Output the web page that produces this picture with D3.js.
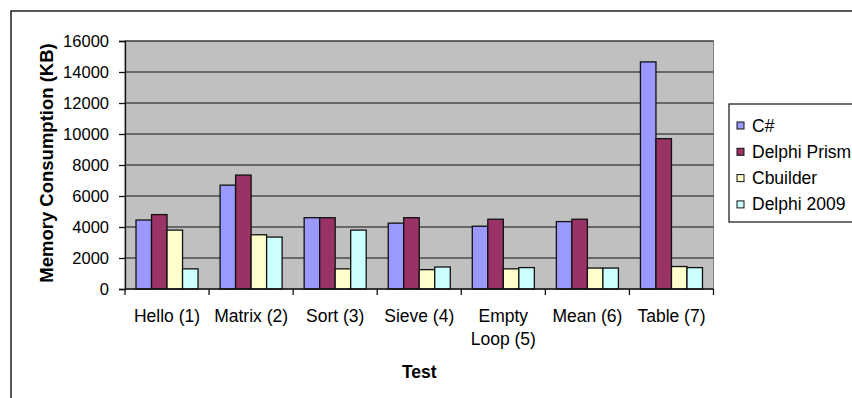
<!DOCTYPE html>
<html>
<head>
<meta charset="utf-8">
<script src="https://cdn.jsdelivr.net/npm/d3@7"></script>
<style>
  body { margin: 0; background: #fff; }
  svg { display: block; font-family: "Liberation Sans", Arial, sans-serif; }
</style>
</head>
<body>
<script>
(()=>{
    const width = 852;
    const height = 398;

    const categories = ["Hello (1)", "Matrix (2)", "Sort (3)", "Sieve (4)", "Empty Loop (5)", "Mean (6)", "Table (7)"];
    const seriesNames = ["C#", "Delphi Prism", "Cbuilder", "Delphi 2009"];
    const csharp      = [4450, 6700, 4600, 4250, 4050, 4350, 14650];
    const delphiPrism = [4800, 7350, 4600, 4600, 4500, 4500, 9700];
    const cbuilder    = [3800, 3500, 1300, 1250, 1300, 1350, 1450];
    const delphi2009  = [1300, 3350, 3800, 1420, 1380, 1350, 1380];
    const yTicks = [0, 2000, 4000, 6000, 8000, 10000, 12000, 14000, 16000];
    const colors = ["#9999FF", "#993366", "#FFFFCC", "#CCFFFF"];

    const seriesValues = [csharp, delphiPrism, cbuilder, delphi2009];

    const plot = {left: 125, right: 713.5, top: 41, bottom: 289};

    const svg = d3.create("svg")
        .attr("width", width)
        .attr("height", height)
        .attr("viewBox", [0, 0, width, height]);

    // attach early so text can be measured for wrapping
    d3.select("body").append(() => svg.node());

    // outer chart border (runs off the bottom/right of the picture)
    svg.append("rect")
        .attr("x", 11).attr("y", 11)
        .attr("width", 900).attr("height", 450)
        .attr("fill", "white")
        .attr("stroke", "#111")
        .attr("stroke-width", 1.4);

    const x0 = d3.scaleBand()
        .domain(categories)
        .range([plot.left, plot.right])
        .padding(0);

    const x1 = d3.scaleBand()
        .domain(seriesNames)
        .range([0, x0.bandwidth()])
        .paddingInner(0)
        .paddingOuter(0.71);

    const y = d3.scaleLinear()
        .domain([0, 16000])
        .range([plot.bottom, plot.top]);

    // plot area
    svg.append("rect")
        .attr("x", plot.left).attr("y", plot.top)
        .attr("width", plot.right - plot.left)
        .attr("height", plot.bottom - plot.top)
        .attr("fill", "#C0C0C0")
        .attr("stroke", "#808080")
        .attr("stroke-width", 1);

    // gridlines
    svg.append("g")
        .selectAll("line")
        .data(yTicks.filter(d => d > 0))
        .join("line")
        .attr("x1", plot.left).attr("x2", plot.right)
        .attr("y1", d => y(d)).attr("y2", d => y(d))
        .attr("stroke", "#111")
        .attr("stroke-width", 1);

    // bars
    const groups = svg.append("g")
        .selectAll("g")
        .data(categories)
        .join("g")
        .attr("transform", d => `translate(${x0(d)},0)`);

    groups.selectAll("rect")
        .data((d, i) => seriesNames.map((s, j) => ({series: s, value: seriesValues[j][i], idx: j})))
        .join("rect")
        .attr("x", d => x1(d.series))
        .attr("width", x1.bandwidth())
        .attr("y", d => y(d.value))
        .attr("height", d => y(0) - y(d.value))
        .attr("fill", d => colors[d.idx])
        .attr("stroke", "#111")
        .attr("stroke-width", 1.3);

    // y axis
    const yAxis = svg.append("g")
        .attr("transform", `translate(${plot.left},0)`)
        .call(d3.axisLeft(y).tickValues(yTicks).tickSize(6).tickPadding(10).tickFormat(d3.format("d")));
    yAxis.select(".domain").attr("stroke", "#111").attr("stroke-width", 1.3);
    yAxis.selectAll(".tick line").attr("stroke", "#111").attr("stroke-width", 1.3);
    yAxis.selectAll("text")
        .attr("font-size", 16.5)
        .attr("font-family", "Liberation Sans, Arial, sans-serif")
        .attr("fill", "#000");

    // x axis
    const xAxis = svg.append("g")
        .attr("transform", `translate(0,${plot.bottom})`)
        .call(d3.axisBottom(x0).tickSize(0).tickPadding(21));
    xAxis.select(".domain").remove();
    xAxis.selectAll("text")
        .attr("font-size", 17.5)
        .attr("font-family", "Liberation Sans, Arial, sans-serif")
        .attr("fill", "#000")
        .each(function(d) {
            // wrap labels wider than the band
            const t = d3.select(this);
            if (this.getComputedTextLength() <= x0.bandwidth() - 4) return;
            const words = d.split(" ");
            t.text(null);
            t.append("tspan").attr("x", 0).attr("dy", "0.71em").text(words[0]);
            t.append("tspan").attr("x", 0).attr("dy", "1.28em").text(words.slice(1).join(" "));
            t.attr("dy", null);
        });

    svg.append("line")
        .attr("x1", plot.left).attr("x2", plot.right)
        .attr("y1", plot.bottom).attr("y2", plot.bottom)
        .attr("stroke", "#111").attr("stroke-width", 1.3);

    svg.append("g")
        .selectAll("line")
        .data(categories.map(c => x0(c)).concat([plot.right]))
        .join("line")
        .attr("x1", d => d).attr("x2", d => d)
        .attr("y1", plot.bottom).attr("y2", plot.bottom + 6)
        .attr("stroke", "#111").attr("stroke-width", 1.3);

    // axis titles
    svg.append("text")
        .attr("x", (plot.left + plot.right) / 2)
        .attr("y", 378)
        .attr("text-anchor", "middle")
        .attr("font-size", 17.5)
        .attr("font-weight", "bold")
        .text("Test");

    svg.append("text")
        .attr("transform", `translate(53,${(plot.top + plot.bottom) / 2 - 2}) rotate(-90)`)
        .attr("text-anchor", "middle")
        .attr("font-size", 18.5)
        .attr("font-weight", "bold")
        .text("Memory Consumption (KB)");

    // legend
    const legend = svg.append("g");
    legend.append("rect")
        .attr("x", 729).attr("y", 104)
        .attr("width", 200).attr("height", 118)
        .attr("fill", "white")
        .attr("stroke", "#111")
        .attr("stroke-width", 1.2);

    const items = legend.selectAll("g")
        .data(seriesNames)
        .join("g")
        .attr("transform", (d, i) => `translate(737,${125.5 + i * 26.3})`);

    items.append("rect")
        .attr("x", 0).attr("y", -3.5)
        .attr("width", 7).attr("height", 7)
        .attr("fill", (d, i) => colors[i])
        .attr("stroke", "#111")
        .attr("stroke-width", 1);

    items.append("text")
        .attr("x", 15)
        .attr("y", 6)
        .attr("font-size", 17.5)
        .text(d => d);
})()
</script>
</body>
</html>
